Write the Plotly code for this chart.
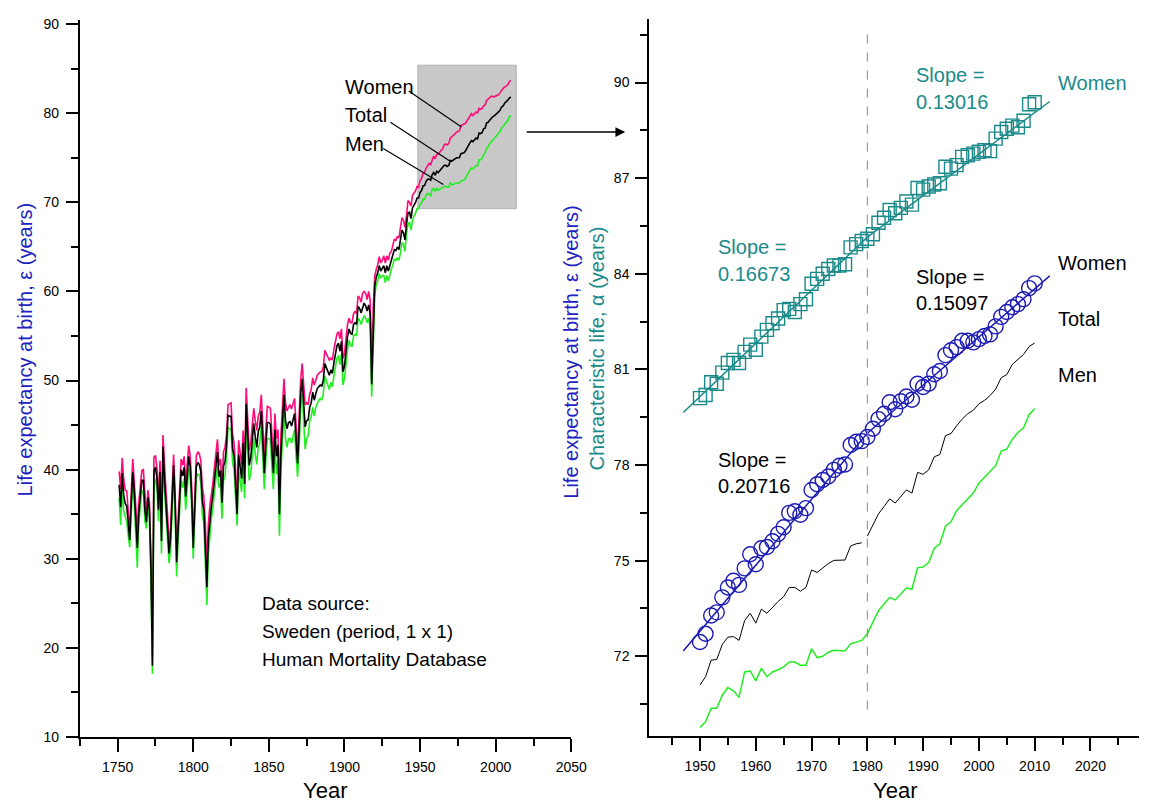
import plotly.graph_objects as go

# ---------------- data ----------------
years = list(range(1751, 2011))

women = [
    39.8, 37.8, 41.3, 38.9, 37.7, 37.6, 35.4, 32.9, 37.5, 41.2,
    38.6, 35.2, 33.3, 36.4, 38.4, 39.9, 40.0, 36.6, 34.8, 37.7,
    36.4, 30.5, 18.9, 41.4, 41.6, 40.2, 36.8, 41.0, 33.5, 43.9,
    40.0, 37.5, 35.0, 31.8, 33.5, 38.5, 41.7, 37.5, 31.1, 34.5,
    38.5, 41.2, 40.5, 41.5, 38.4, 41.0, 42.7, 41.5, 38.0, 32.4,
    36.5, 41.5, 42.0, 41.8, 41.0, 38.0, 37.0, 34.0, 28.9, 34.0,
    36.0, 37.2, 38.5, 40.3, 41.8, 43.4, 40.5, 41.2, 38.0, 42.0,
    42.5, 44.0, 47.3, 47.4, 47.5, 44.0, 43.0, 40.0, 36.2, 43.3,
    42.0, 40.5, 44.4, 40.0, 49.2, 45.5, 42.2, 43.0, 44.8, 46.9,
    45.5, 44.4, 46.0, 46.5, 48.4, 45.0, 41.4, 44.5, 47.1, 47.0,
    46.9, 44.0, 41.4, 46.3, 43.5, 44.5, 37.5, 44.0, 47.5, 50.2,
    47.5, 46.6, 47.0, 47.3, 46.8, 47.5, 48.0, 45.0, 42.1, 46.0,
    50.0, 51.9, 49.5, 47.3, 47.5, 47.3, 48.5, 49.0, 50.3, 49.5,
    50.0, 50.6, 50.8, 51.0, 51.0, 51.5, 53.4, 53.0, 52.5, 52.3,
    52.5, 52.3, 53.5, 54.5, 55.2, 55.5, 54.7, 55.8, 52.5, 53.0,
    55.0, 56.3, 57.0, 56.5, 56.5, 57.5, 57.8, 57.5, 59.5, 59.3,
    58.8, 59.8, 60.0, 59.8, 59.1, 60.0, 59.0, 51.0, 58.0, 61.7,
    62.5, 63.0, 63.9, 63.2, 63.5, 64.0, 63.2, 64.0, 63.5, 64.3,
    64.5, 65.2, 65.9, 65.7, 66.2, 66.0, 67.0, 68.3, 68.0, 67.2,
    68.5, 70.2, 70.0, 69.6, 70.8, 71.0, 71.3, 71.8, 71.7, 72.45,
    72.71, 73.28, 73.38, 73.85, 74.16, 74.37, 74.24, 74.76, 75.20, 74.89,
    75.39, 75.43, 75.61, 75.84, 76.05, 76.50, 76.55, 76.44, 76.65, 77.22,
    77.40, 77.53, 77.64, 77.85, 77.98, 78.02, 78.63, 78.73, 78.75, 78.88,
    79.14, 79.44, 79.61, 79.97, 79.75, 80.00, 80.15, 80.05, 80.55, 80.45,
    80.55, 80.85, 80.95, 81.45, 81.60, 81.70, 81.90, 81.90, 81.85, 81.95,
    82.05, 82.10, 82.35, 82.65, 82.80, 82.95, 83.05, 83.20, 83.55, 83.70,
]

men = [
    36.8, 33.8, 37.9, 35.4, 34.7, 34.2, 32.6, 31.3, 35.1, 38.1,
    36.2, 32.4, 29.0, 34.0, 35.9, 37.6, 37.6, 34.3, 33.4, 36.0,
    34.6, 27.8, 17.1, 38.1, 39.0, 37.8, 34.2, 38.3, 30.6, 41.2,
    37.5, 34.8, 32.3, 29.5, 31.0, 36.0, 39.3, 35.0, 28.0, 32.0,
    36.0, 38.8, 38.0, 39.0, 35.5, 38.5, 40.2, 39.0, 35.5, 30.0,
    34.0, 39.0, 39.5, 39.4, 38.5, 35.0, 34.0, 30.0, 24.8, 30.5,
    33.0, 34.5, 35.8, 37.8, 39.0, 40.5, 38.0, 38.5, 34.5, 38.8,
    39.2, 41.5, 44.8, 44.6, 44.5, 40.8, 40.0, 36.8, 33.7, 40.0,
    38.8, 37.5, 41.5, 36.8, 45.5, 42.0, 38.8, 39.5, 41.5, 43.5,
    41.8, 40.6, 42.5, 43.0, 44.8, 41.5, 37.8, 41.0, 43.5, 43.5,
    43.3, 40.3, 37.8, 42.7, 39.5, 41.0, 32.6, 40.0, 43.8, 46.5,
    43.5, 42.5, 43.5, 43.5, 43.0, 44.0, 44.5, 41.5, 39.2, 42.5,
    46.8, 48.5, 46.0, 42.3, 43.5, 43.8, 45.5, 46.0, 47.0, 46.0,
    47.0, 47.5, 47.8, 48.0, 47.8, 48.5, 50.5, 50.0, 49.5, 49.0,
    49.8, 49.3, 50.5, 51.8, 52.5, 52.8, 51.8, 53.0, 49.5, 50.2,
    52.3, 53.5, 54.5, 54.0, 53.8, 55.0, 55.2, 55.0, 57.0, 56.8,
    56.3, 56.8, 57.3, 57.0, 56.5, 57.0, 56.0, 48.2, 55.5, 59.5,
    60.8, 61.2, 62.0, 61.5, 61.8, 61.8, 61.0, 61.8, 61.2, 62.0,
    62.5, 63.0, 63.6, 63.5, 63.8, 63.5, 64.3, 65.5, 65.3, 64.5,
    66.5, 67.5, 67.8, 66.9, 68.0, 68.5, 68.8, 69.3, 69.3, 69.77,
    69.95, 70.37, 70.37, 70.78, 71.02, 70.92, 70.71, 71.51, 71.54, 71.23,
    71.62, 71.36, 71.51, 71.58, 71.67, 71.82, 71.82, 71.72, 71.72, 72.24,
    71.96, 72.00, 72.13, 72.19, 72.17, 72.17, 72.39, 72.45, 72.50, 72.71,
    73.07, 73.43, 73.64, 73.85, 73.77, 73.95, 74.14, 74.11, 74.78, 74.80,
    74.94, 75.39, 75.53, 76.08, 76.22, 76.57, 76.76, 76.96, 77.12, 77.43,
    77.61, 77.79, 77.98, 78.44, 78.50, 78.81, 79.02, 79.17, 79.58, 79.77,
]

total = [
    38.3, 35.8, 39.6, 37.1, 36.2, 35.9, 34.0, 32.1, 36.3, 39.7,
    37.4, 33.8, 31.2, 35.2, 37.2, 38.8, 38.8, 35.5, 34.1, 36.9,
    35.5, 29.1, 18.0, 39.8, 40.3, 39.0, 35.5, 39.7, 32.0, 42.6,
    38.8, 36.2, 33.7, 30.6, 32.3, 37.3, 40.5, 36.3, 29.6, 33.3,
    37.3, 40.0, 39.3, 40.3, 37.0, 39.8, 41.5, 40.3, 36.8, 31.2,
    35.3, 40.3, 40.8, 40.6, 39.8, 36.5, 35.5, 32.0, 26.8, 32.3,
    34.5, 35.9, 37.2, 39.0, 40.4, 42.0, 39.2, 39.9, 36.3, 40.4,
    40.9, 42.8, 46.1, 46.0, 46.0, 42.4, 41.5, 38.4, 35.0, 41.7,
    40.4, 39.0, 43.0, 38.4, 47.4, 43.8, 40.5, 41.3, 43.2, 45.2,
    43.7, 42.5, 44.3, 44.8, 46.6, 43.3, 39.6, 42.8, 45.3, 45.3,
    45.1, 42.2, 39.6, 44.5, 41.5, 42.8, 35.0, 42.0, 45.7, 48.4,
    45.5, 44.6, 45.3, 45.4, 44.9, 45.8, 46.3, 43.3, 40.7, 44.3,
    48.4, 50.2, 47.8, 44.8, 45.5, 45.6, 47.0, 47.5, 48.7, 47.8,
    48.5, 49.1, 49.3, 49.5, 49.4, 50.0, 51.9, 51.5, 51.0, 50.6,
    51.2, 50.8, 52.0, 53.2, 53.9, 54.2, 53.3, 54.4, 51.0, 51.6,
    53.7, 54.9, 55.8, 55.3, 55.2, 56.3, 56.5, 56.3, 58.3, 58.1,
    57.6, 58.3, 58.7, 58.4, 57.8, 58.5, 57.5, 49.6, 56.8, 60.6,
    61.6, 62.1, 62.9, 62.3, 62.6, 62.9, 62.1, 62.9, 62.3, 63.1,
    63.5, 64.1, 64.7, 64.6, 65.0, 64.7, 65.6, 66.9, 66.6, 65.8,
    67.5, 68.8, 68.9, 68.2, 69.4, 69.7, 70.0, 70.5, 70.5, 71.10,
    71.36, 71.88, 71.90, 72.37, 72.60, 72.62, 72.50, 73.12, 73.35, 73.04,
    73.48, 73.35, 73.54, 73.72, 73.87, 74.16, 74.16, 74.04, 74.16, 74.71,
    74.63, 74.76, 74.91, 75.01, 75.01, 75.02, 75.46, 75.53, 75.56, 75.77,
    76.11, 76.47, 76.70, 76.94, 76.81, 77.02, 77.22, 77.12, 77.77, 77.71,
    77.85, 78.26, 78.33, 78.92, 78.99, 79.23, 79.44, 79.61, 79.72, 79.92,
    80.03, 80.18, 80.38, 80.74, 80.84, 81.16, 81.31, 81.47, 81.72, 81.83,
]

alpha_years = list(range(1950, 2011))
alpha = [
    80.10, 80.20, 80.60, 80.55, 80.90, 81.20, 81.30, 81.20, 81.55, 81.78,
    81.62, 82.03, 82.24, 82.45, 82.60, 82.86, 82.90, 82.80, 83.05, 83.20,
    83.69, 83.84, 84.00, 84.15, 84.26, 84.26, 84.30, 84.83, 84.93, 85.03,
    85.10, 85.24, 85.60, 85.76, 86.00, 85.90, 86.07, 86.27, 86.17, 86.69,
    86.64, 86.74, 86.80, 86.84, 87.36, 87.30, 87.41, 87.67, 87.72, 87.77,
    87.83, 87.88, 87.85, 88.24, 88.45, 88.55, 88.65, 88.60, 88.80, 89.32,
    89.38,
]

# piecewise linear fits: (start, break, end), value at break, slopes
fit_x = [1947.0, 1980.0, 2012.7]
alpha_fit_at_break = 85.15
alpha_slopes = [0.16673, 0.13016]
women_fit_at_break = 79.0
women_slopes = [0.20716, 0.15097]

# gray highlight box on the left panel (x0, x1, y0, y1)
box = [1948.5, 2013.6, 69.3, 85.4]

# ---------------- styling ----------------
FONT = "Liberation Sans Narrow, Arial Narrow, Liberation Sans, Arial, sans-serif"
PINK = "#ff0a78"
GREEN = "#22ee22"
BLUE = "#1c1cb4"
TEAL = "#1a8a8a"
TITLE_BLUE = "#2222c0"

i50 = years.index(1950)
i79 = years.index(1979)
i80 = years.index(1980)

fig = go.Figure()

# left panel
fig.add_trace(go.Scatter(x=years, y=women, mode="lines", line=dict(color=PINK, width=1.6),
                         xaxis="x", yaxis="y", showlegend=False))
fig.add_trace(go.Scatter(x=years, y=men, mode="lines", line=dict(color=GREEN, width=1.6),
                         xaxis="x", yaxis="y", showlegend=False))
fig.add_trace(go.Scatter(x=years, y=total, mode="lines", line=dict(color="black", width=1.6),
                         xaxis="x", yaxis="y", showlegend=False))

# right panel
fig.add_trace(go.Scatter(x=years[i50:], y=men[i50:], mode="lines", line=dict(color=GREEN, width=1.5),
                         xaxis="x2", yaxis="y2", showlegend=False))
fig.add_trace(go.Scatter(x=years[i50:i79 + 1], y=total[i50:i79 + 1], mode="lines",
                         line=dict(color="black", width=1.0), xaxis="x2", yaxis="y2", showlegend=False))
fig.add_trace(go.Scatter(x=years[i80:], y=total[i80:], mode="lines",
                         line=dict(color="black", width=1.0), xaxis="x2", yaxis="y2", showlegend=False))
fig.add_trace(go.Scatter(x=years[i50:], y=women[i50:], mode="markers",
                         marker=dict(symbol="circle-open", size=15, color=BLUE, line=dict(width=1.4)),
                         xaxis="x2", yaxis="y2", showlegend=False))
fig.add_trace(go.Scatter(x=alpha_years, y=alpha, mode="markers",
                         marker=dict(symbol="square-open", size=13, color=TEAL, line=dict(width=1.4)),
                         xaxis="x2", yaxis="y2", showlegend=False))


def fit_points(at_break, slopes):
    y0 = at_break - slopes[0] * (fit_x[1] - fit_x[0])
    y2 = at_break + slopes[1] * (fit_x[2] - fit_x[1])
    return [y0, at_break, y2]


fig.add_trace(go.Scatter(x=fit_x, y=fit_points(alpha_fit_at_break, alpha_slopes), mode="lines",
                         line=dict(color=TEAL, width=1.5), xaxis="x2", yaxis="y2", showlegend=False))
fig.add_trace(go.Scatter(x=fit_x, y=fit_points(women_fit_at_break, women_slopes), mode="lines",
                         line=dict(color=BLUE, width=1.5), xaxis="x2", yaxis="y2", showlegend=False))

axis_common = dict(showline=True, linecolor="black", linewidth=2, ticks="outside",
                   tickcolor="black", tickwidth=2, showgrid=False, zeroline=False,
                   tickfont=dict(family=FONT, size=14, color="black"))

fig.update_layout(
    width=1155, height=808, margin=dict(l=0, r=0, t=0, b=0),
    paper_bgcolor="white", plot_bgcolor="white",
    font=dict(family=FONT, color="black"),
    xaxis=dict(domain=[0.0701, 0.5016], range=[1725, 2050.01], anchor="y",
               tick0=1750, dtick=50, ticklen=13, ticklabelstandoff=3,
               minor=dict(dtick=25, tick0=1725, ticklen=7, tickwidth=2, ticks="outside", tickcolor="black"),
               **axis_common),
    yaxis=dict(domain=[0.0792, 0.9802], range=[10, 90.5], anchor="x",
               tick0=10, dtick=10, ticklen=12, ticklabelstandoff=4,
               minor=dict(dtick=5, tick0=10, ticklen=7, tickwidth=2, ticks="outside", tickcolor="black"),
               **axis_common),
    xaxis2=dict(domain=[0.570, 1.0], range=[1940.9, 2028.7], anchor="y2",
                tick0=1950, dtick=10, ticklen=13, ticklabelstandoff=3,
                minor=dict(dtick=5, tick0=1945, ticklen=7, tickwidth=2, ticks="outside", tickcolor="black"),
                **axis_common),
    yaxis2=dict(domain=[0.0804, 0.9814], range=[69.5, 92.0], anchor="x2",
                tick0=72, dtick=3, ticklen=12, ticklabelstandoff=3,
                minor=dict(dtick=1.5, tick0=70.5, ticklen=7, tickwidth=2, ticks="outside", tickcolor="black"),
                **axis_common),
)

# shapes
fig.add_shape(type="rect", xref="x", yref="y", x0=box[0], x1=box[1], y0=box[2], y1=box[3],
              fillcolor="#c8c8c8", line=dict(color="#b4b4b4", width=1), layer="below")
for (xa, ya, xb, yb) in [(1942.5, 82.5, 1977.4, 78.46), (1930.4, 79.0, 1970.2, 74.6),
                         (1925.6, 76.06, 1965.4, 72.0)]:
    fig.add_shape(type="line", xref="x", yref="y", x0=xa, y0=ya, x1=xb, y1=yb,
                  line=dict(color="black", width=1.2))
fig.add_shape(type="line", xref="x2", yref="y2", x0=1980, x1=1980, y0=70.33, y1=91.7,
              line=dict(color="#8a8a8a", width=1, dash="dash"))

ann = []


def txt(x, y, s, color="black", size=20, xref="x", yref="y", xanchor="left", angle=0,
        yanchor="middle", yshift=0):
    ann.append(dict(x=x, y=y, xref=xref, yref=yref, text=s, showarrow=False, xanchor=xanchor,
                    yanchor=yanchor, textangle=angle, yshift=yshift,
                    font=dict(family=FONT, size=size, color=color)))


# left panel texts
txt(1899.2, 82.9, "Women")
txt(1899.2, 79.8, "Total")
txt(1899.2, 76.6, "Men")
txt(1844.3, 25.0, "Data source:", size=19)
txt(1844.3, 21.8, "Sweden (period, 1 x 1)", size=19)
txt(1844.3, 18.7, "Human Mortality Database", size=19)

# right panel texts
txt(1988.4, 90.24, "Slope =", TEAL, xref="x2", yref="y2")
txt(1988.4, 89.38, "0.13016", TEAL, xref="x2", yref="y2")
txt(2013.9, 90.0, "Women", TEAL, xref="x2", yref="y2")
txt(1952.9, 84.84, "Slope =", TEAL, xref="x2", yref="y2")
txt(1952.9, 83.98, "0.16673", TEAL, xref="x2", yref="y2")
txt(2013.9, 84.35, "Women", xref="x2", yref="y2")
txt(1988.4, 83.91, "Slope =", xref="x2", yref="y2")
txt(1988.4, 83.08, "0.15097", xref="x2", yref="y2")
txt(2013.9, 82.59, "Total", xref="x2", yref="y2")
txt(2013.9, 80.83, "Men", xref="x2", yref="y2")
txt(1952.9, 78.17, "Slope =", xref="x2", yref="y2")
txt(1952.9, 77.34, "0.20716", xref="x2", yref="y2")

# axis titles (paper coordinates)
txt(25 / 1155, 1 - 351 / 808, "Life expectancy at birth, ε (years)", TITLE_BLUE, 20, "paper", "paper", "center", -90)
txt(579 / 1155, 1 - 353 / 808, "Life expectancy at birth, ε (years)", TITLE_BLUE, 20, "paper", "paper", "center", -90)
txt(605 / 1155, 1 - 350 / 808, "Characteristic life, α (years)", TEAL, 20, "paper", "paper", "center", -90)
txt(330 / 1155, 0, "Year", "black", 22, "paper", "paper", "center", yanchor="bottom", yshift=-5)
txt(908 / 1155, 0, "Year", "black", 22, "paper", "paper", "center", yanchor="bottom", yshift=-5)

# arrow between panels
ann.append(dict(x=634 / 1155, y=1 - 130 / 808, xref="paper", yref="paper", ax=-100, ay=0,
                text="", showarrow=True, arrowhead=2, arrowsize=1.3, arrowwidth=1.5, arrowcolor="black"))

fig.update_layout(annotations=ann)

fig.write_html("out.html", config={"displayModeBar": False},
               post_script="document.body.style.margin='0';")
